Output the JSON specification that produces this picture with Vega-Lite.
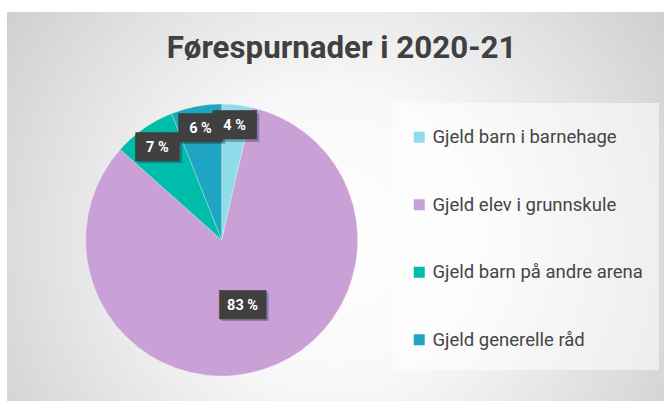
{
  "$schema": "https://vega.github.io/schema/vega-lite/v6.json",
  "width": 666,
  "height": 401,
  "autosize": {"type": "fit", "contains": "padding"},
  "padding": {"left": 7, "top": 12, "right": 2, "bottom": 0},
  "background": "#ffffff",
  "config": {
    "view": {"stroke": null},
    "locale": {"number": {"decimal": ",", "thousands": " ", "grouping": [3], "currency": ["", " kr"], "percent": " %"}}
  },
  "title": {
    "text": "Førespurnader i 2020-21",
    "font": "Roboto",
    "fontSize": 31.3,
    "fontWeight": "bold",
    "color": "#404040",
    "anchor": "middle",
    "frame": "group",
    "baseline": "top",
    "offset": -52,
    "dx": 6
  },
  "data": {
    "values": [
      {"kategori": "Gjeld barn i barnehage", "share": 0.036, "order": 1},
      {"kategori": "Gjeld elev i grunnskule", "share": 0.83, "order": 2},
      {"kategori": "Gjeld barn på andre arena", "share": 0.074, "order": 3},
      {"kategori": "Gjeld generelle råd", "share": 0.06, "order": 4}
    ]
  },
  "layer": [
    {
      "data": {"values": [{}]},
      "mark": {
        "type": "rect",
        "x": 0, "x2": "width", "y": 0, "y2": "height",
        "fill": {"gradient": "radial", "x1": 0.5, "y1": 0.55, "r1": 0, "x2": 0.5, "y2": 0.55, "r2": 0.75,
          "stops": [{"offset": 0, "color": "#ffffff"}, {"offset": 0.3, "color": "#f8f8f8"}, {"offset": 1, "color": "#c0c0c0"}]}
      }
    },
    {
      "data": {"values": [{}]},
      "mark": {"type": "rect", "x": 386, "x2": 652, "y": 91, "y2": 358, "fill": "#ffffff", "fillOpacity": 0.55}
    },
    {
      "mark": {"type": "arc", "x": 214.7, "y": 228, "outerRadius": 136, "stroke": "#ffffff", "strokeWidth": 0.5, "strokeOpacity": 0.5},
      "encoding": {
        "theta": {"field": "share", "type": "quantitative", "stack": true},
        "order": {"field": "order", "type": "quantitative"},
        "color": {
          "field": "kategori",
          "type": "nominal",
          "scale": {
            "domain": ["Gjeld barn i barnehage", "Gjeld elev i grunnskule", "Gjeld barn på andre arena", "Gjeld generelle råd"],
            "range": ["#8fdcea", "#c9a1d6", "#00bdab", "#1fa5c3"]
          },
          "legend": {
            "orient": "none",
            "legendX": 403,
            "legendY": 116,
            "title": null,
            "symbolType": "square",
            "symbolSize": 121,
            "symbolStrokeWidth": 0,
            "labelFont": "Roboto",
            "labelFontSize": 18.5,
            "labelColor": "#454545",
            "labelOffset": 4,
            "rowPadding": 48.5,
            "padding": 0,
            "labelLimit": 300
          }
        }
      }
    },
    {
      "mark": {"type": "text", "x": 214.7, "y": 228, "dx": 2.5, "dy": 2.5, "font": "DejaVu Sans Mono", "fontSize": 24, "align": "center", "baseline": "middle", "fill": "#000000", "opacity": 0.25},
      "encoding": {
        "theta": {"field": "share", "type": "quantitative", "stack": true},
        "order": {"field": "order", "type": "quantitative"},
        "radius": {"field": "share", "type": "quantitative", "scale": {"type": "linear", "domain": [0, 1], "range": [116.5, 59], "zero": false}},
        "text": {"condition": {"test": "datum.share > 0.5", "value": "▕███▏"}, "value": "███"}
      }
    },
    {
      "mark": {"type": "text", "x": 214.7, "y": 228, "font": "DejaVu Sans Mono", "fontSize": 24, "align": "center", "baseline": "middle", "fill": "#404040", "stroke": "#404040", "strokeWidth": 0.6},
      "encoding": {
        "theta": {"field": "share", "type": "quantitative", "stack": true},
        "order": {"field": "order", "type": "quantitative"},
        "radius": {"field": "share", "type": "quantitative", "scale": {"type": "linear", "domain": [0, 1], "range": [116.5, 59], "zero": false}},
        "text": {"condition": {"test": "datum.share > 0.5", "value": "▕███▏"}, "value": "███"}
      }
    },
    {
      "mark": {"type": "text", "x": 214.7, "y": 228, "font": "Roboto", "fontSize": 14.5, "fontWeight": "bold", "align": "center", "baseline": "middle", "fill": "#ffffff"},
      "encoding": {
        "theta": {"field": "share", "type": "quantitative", "stack": true},
        "order": {"field": "order", "type": "quantitative"},
        "radius": {"field": "share", "type": "quantitative", "scale": {"type": "linear", "domain": [0, 1], "range": [116.5, 59], "zero": false}},
        "text": {"field": "share", "type": "quantitative", "format": ".0%"}
      }
    }
  ]
}
